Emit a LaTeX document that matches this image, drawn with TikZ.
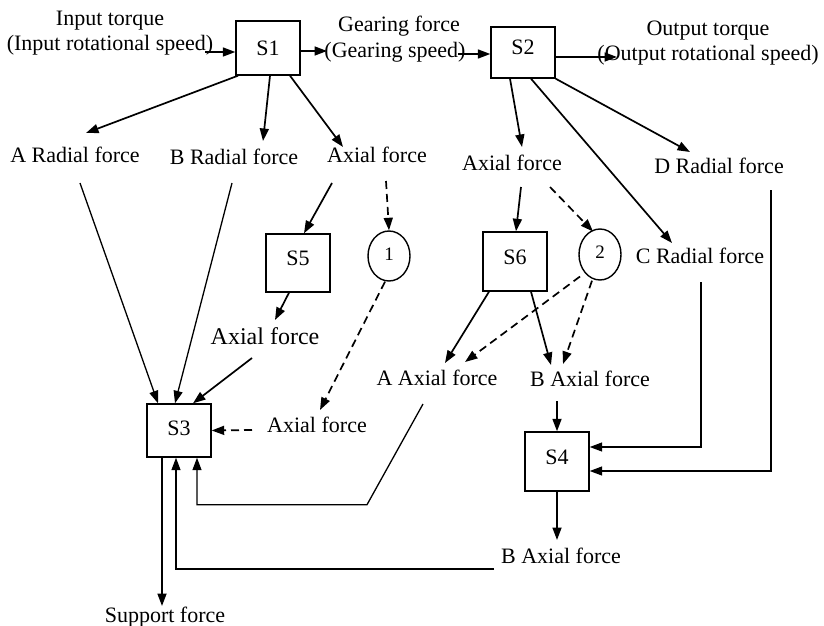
\documentclass[tikz,border=0pt]{standalone}
\usepackage{fontspec}
\setmainfont{Liberation Serif}
\usetikzlibrary{arrows.meta,shapes.geometric}
\begin{document}
\begin{tikzpicture}[x=1pt,y=-1pt,
  txt/.style={inner sep=0pt, text height=15pt, text depth=0pt, font=\fontsize{22}{25}\selectfont},
  box/.style={draw, line width=1.4pt, minimum width=64pt, minimum height=55pt, inner sep=0pt, text height=15pt, text depth=10pt, font=\fontsize{22}{25}\selectfont},
  circ/.style={draw, ellipse, line width=1.4pt, minimum width=42pt, minimum height=50pt, inner sep=0pt, text height=13pt, text depth=5pt, font=\fontsize{19}{22}\selectfont},
  arr/.style={-{Triangle[length=12.5pt,width=9pt]}, line width=1.7pt},
  darr/.style={arr, dash pattern=on 8pt off 5pt},
  lin/.style={arr, line width=1.3pt}
]
\useasboundingbox (0,0) rectangle (824,626);
% boxes
\node[box, minimum height=54pt, text depth=0pt] (S1) at (268,48) {S1};
\node[box, minimum height=51pt] (S2) at (523,52.5) {S2};
\node[box, minimum height=53pt, text depth=6pt] (S3) at (179,430.5) {S3};
\node[box, minimum height=59pt] (S4) at (557,461.5) {S4};
\node[box, minimum height=58pt] (S5) at (298,263) {S5};
\node[box, minimum height=59pt] (S6) at (515,261.5) {S6};
\node[circ] (C1) at (389,256) {1};
\node[circ, minimum height=51pt] (C2) at (600,254.5) {2};
% texts
\node[txt] (in1) at (110,18) {Input torque};
\node[txt] (in2) at (110,43) {(Input rotational speed)};
\node[txt] (ge1) at (399,24) {Gearing force};
\node[txt] (ge2) at (395,50) {(Gearing speed)};
\node[txt] (ou1) at (708,28) {Output torque};
\node[txt] (ou2) at (708,53) {(Output rotational speed)};
\node[txt] (ar) at (75,155) {A Radial force};
\node[txt] (br) at (234,157) {B Radial force};
\node[txt] (ax1) at (377,155) {Axial force};
\node[txt] (ax2) at (512,163) {Axial force};
\node[txt] (dr) at (719,166) {D Radial force};
\node[txt] (cr) at (700,256) {C Radial force};
\node[txt, font=\fontsize{24}{27}\selectfont] (ax5) at (265,337) {Axial force};
\node[txt] (ax3) at (317,425) {Axial force};
\node[txt] (aa) at (437,378) {A Axial force};
\node[txt] (ba) at (590,379) {B Axial force};
\node[txt] (bb) at (561,556) {B Axial force};
\node[txt] (sup) at (165,615) {Support force};
% connectors
\draw[arr] ([shift={(95,9)}]in2.center) -- ([shift={(0,4)}]S1.west);
\draw[arr] ([shift={(0,3)}]S1.east) -- ([shift={(-68,1)}]ge2.center);
\draw[arr] ([shift={(63,4)}]ge2.center) -- ([shift={(0,1.5)}]S2.west);
\draw[arr] ([shift={(0,4.5)}]S2.east) -- ([shift={(-91,4)}]ou2.center);
\draw[arr] ([shift={(-30,0)}]S1.south) -- ([shift={(11,-22)}]ar.center);
\draw[arr] ([shift={(2,0)}]S1.south) -- ([shift={(29,-16)}]br.center);
\draw[arr] ([shift={(22,0)}]S1.south) -- ([shift={(-34,-8)}]ax1.center);
\draw[arr] ([shift={(-13,0)}]S2.south) -- ([shift={(10,-16)}]ax2.center);
\draw[arr] (S2.south east) -- ([shift={(-29,-14)}]dr.center);
\draw[arr] ([shift={(8,0)}]S2.south) -- ([shift={(-28,-13)}]cr.center);
\draw[arr] ([shift={(-45,28)}]ax1.center) -- ([shift={(6,0)}]S5.north);
\draw[darr] ([shift={(9,26)}]ax1.center) -- (C1.north);
\draw[arr] ([shift={(9,24)}]ax2.center) -- ([shift={(1,0)}]S6.north);
\draw[darr] ([shift={(38,24)}]ax2.center) -- ([shift={(-7,-23)}]C2.center);
\draw[arr] ([shift={(-9,0)}]S5.south) -- ([shift={(10,-17)}]ax5.center);
\draw[arr] ([shift={(-13,21)}]ax5.center) -- ([shift={(14,0)}]S3.north);
\draw[lin] ([shift={(5,28)}]ar.center) -- ([shift={(-21,0)}]S3.north);
\draw[lin] ([shift={(-2,26)}]br.center) -- ([shift={(-4,0)}]S3.north);
\draw[darr] ([shift={(-4,0)}]C1.south) -- ([shift={(3,-15)}]ax3.center);
\draw[darr] ([shift={(-65,5)}]ax3.center) -- (S3.east);
\draw[arr] ([shift={(-26,0)}]S6.south) -- ([shift={(8,-15)}]aa.center);
\draw[arr] ([shift={(16,0)}]S6.south) -- ([shift={(-39,-14)}]ba.center);
\draw[darr] ([shift={(-20,22)}]C2.center) -- ([shift={(28,-16)}]aa.center);
\draw[darr] ([shift={(-8,0)}]C2.south) -- ([shift={(-27,-15)}]ba.center);
\draw[arr] ([shift={(-33,22)}]ba.center) -- (S4.north);
\draw[lin] ([shift={(1,26)}]cr.center) |- ([shift={(0,-14.5)}]S4.east);
\draw[lin] ([shift={(52,24)}]dr.center) |- ([shift={(0,9.5)}]S4.east);
\draw[arr] (S4.south) -- ([shift={(-4,-16)}]bb.center);
\draw[lin] ([shift={(-67,13)}]bb.center) -| ([shift={(-3,0)}]S3.south);
\draw[lin] ([shift={(-14,26)}]aa.center) -- ([shift={(188,47)}]S3.south) -| ([shift={(18,0)}]S3.south);
\draw[arr] ([shift={(-17,0)}]S3.south) -- ([shift={(-3,-9)}]sup.center);
\end{tikzpicture}
\end{document}
